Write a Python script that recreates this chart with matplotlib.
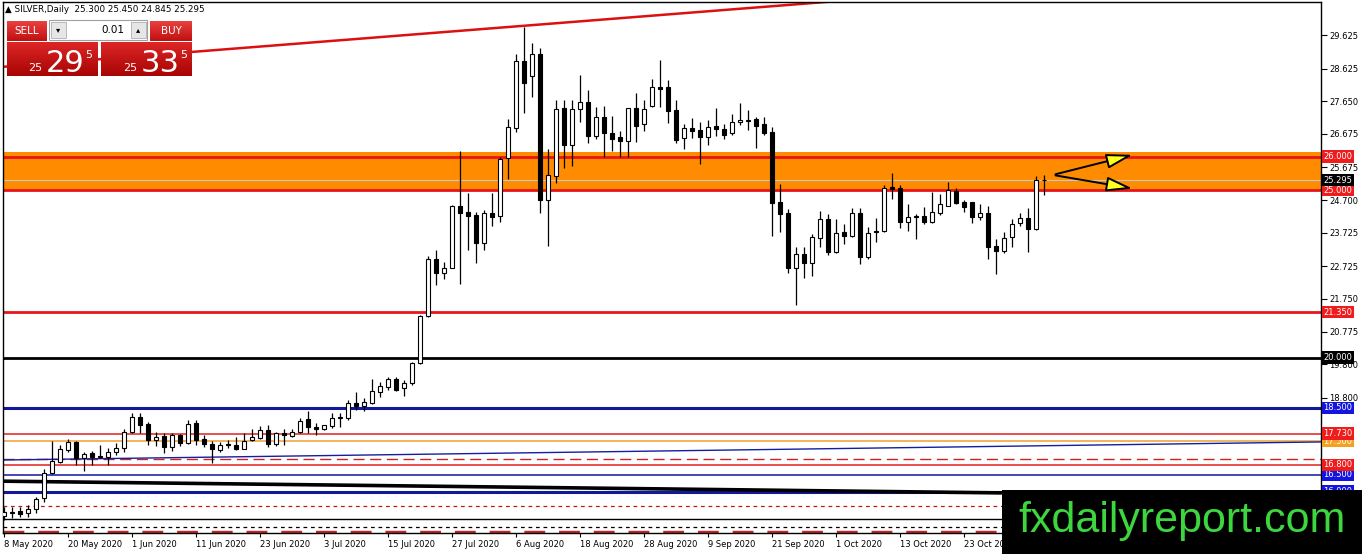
import numpy as np
import pandas as pd
import matplotlib
matplotlib.use('Agg')
import matplotlib.pyplot as plt
from matplotlib.patches import Rectangle
from matplotlib.colors import LinearSegmentedColormap

plt.rcParams['font.family'] = ['DejaVu Sans']

# daily OHLC
opens = [15.27, 15.37, 15.42, 15.35, 15.47, 15.80, 16.54, 16.87, 17.24, 17.47,
         17.01, 17.16, 17.05, 17.04, 17.17, 17.29, 17.79, 18.23, 18.02, 17.54,
         17.66, 17.32, 17.69, 17.46, 18.06, 17.56, 17.42, 17.24, 17.43, 17.40,
         17.28, 17.54, 17.60, 17.85, 17.42, 17.74, 17.67, 17.77, 18.15, 17.94,
         17.86, 17.97, 18.19, 18.18, 18.63, 18.56, 18.63, 18.98, 19.13, 19.36,
         19.08, 19.25, 19.83, 21.24, 22.93, 22.51, 22.68, 24.52, 24.35, 24.25,
         23.43, 24.32, 24.22, 25.95, 26.86, 28.85, 28.41, 29.06, 24.70, 25.43,
         27.44, 26.34, 27.41, 27.64, 26.61, 27.17, 26.71, 26.57, 26.47, 27.44,
         26.96, 27.51, 28.06, 28.06, 27.39, 26.54, 26.85, 26.79, 26.59, 26.91,
         26.81, 26.69, 27.04, 27.07, 27.11, 26.96, 26.72, 24.65, 24.30, 22.68,
         23.08, 22.83, 23.58, 24.12, 23.16, 23.74, 23.64, 24.30, 22.99, 23.78,
         23.78, 25.08, 25.05, 24.06, 24.22, 24.22, 24.06, 24.32, 24.53, 24.98,
         24.65, 24.63, 24.20, 24.30, 23.33, 23.19, 23.59, 24.03, 24.15, 23.83,
         25.300]
highs = [15.55, 15.55, 15.55, 15.60, 15.85, 16.66, 17.51, 17.39, 17.57, 17.51,
         17.19, 17.21, 17.39, 17.29, 17.44, 17.86, 18.35, 18.33, 18.08, 17.79,
         17.74, 17.76, 17.71, 18.13, 18.13, 17.68, 17.52, 17.49, 17.54, 17.64,
         17.74, 17.86, 17.97, 17.98, 17.77, 17.88, 17.88, 18.18, 18.40, 18.05,
         18.00, 18.33, 18.35, 18.73, 18.98, 18.78, 19.35, 19.28, 19.43, 19.41,
         19.33, 19.88, 21.27, 23.03, 23.21, 22.86, 24.55, 26.17, 24.90, 24.35,
         24.40, 24.90, 26.00, 27.11, 29.06, 29.86, 29.40, 29.23, 26.21, 27.69,
         27.69, 27.69, 28.43, 27.99, 27.47, 27.51, 27.21, 26.76, 27.44, 27.89,
         27.69, 28.30, 28.88, 28.28, 27.69, 26.97, 27.14, 27.04, 27.09, 27.44,
         26.97, 27.27, 27.61, 27.39, 27.17, 27.19, 26.89, 25.18, 24.42, 23.31,
         23.29, 23.69, 24.38, 24.27, 24.13, 24.00, 24.45, 24.45, 23.91, 24.15,
         25.15, 25.52, 25.15, 24.58, 24.28, 24.48, 24.95, 24.88, 25.25, 25.05,
         24.70, 24.65, 24.58, 24.52, 23.53, 23.76, 24.12, 24.32, 24.45, 25.42,
         25.450]
lows = [15.15, 15.20, 15.25, 15.23, 15.37, 15.70, 16.52, 16.86, 17.19, 16.79,
        16.62, 16.79, 16.99, 16.79, 17.09, 17.19, 17.74, 17.74, 17.39, 17.36,
        17.14, 17.21, 17.36, 17.42, 17.39, 17.32, 16.86, 17.18, 17.29, 17.24,
        17.26, 17.52, 17.57, 17.34, 17.36, 17.39, 17.62, 17.74, 17.76, 17.69,
        17.85, 17.89, 17.92, 18.13, 18.43, 18.41, 18.61, 18.81, 19.03, 19.01,
        18.85, 19.18, 19.80, 21.20, 22.16, 22.33, 22.66, 22.19, 23.21, 22.83,
        23.21, 23.94, 24.05, 25.32, 26.74, 27.31, 27.79, 24.32, 23.34, 25.22,
        25.65, 25.72, 27.04, 26.41, 26.52, 25.99, 26.17, 25.99, 25.99, 26.44,
        26.77, 27.47, 27.49, 27.01, 26.41, 26.21, 26.54, 25.78, 26.34, 26.61,
        26.51, 26.64, 26.94, 26.79, 26.24, 26.64, 23.63, 23.76, 22.53, 21.57,
        22.36, 22.43, 23.31, 23.06, 23.13, 23.39, 23.59, 22.79, 22.93, 23.46,
        23.76, 24.72, 23.88, 23.79, 23.53, 23.99, 24.02, 24.25, 24.52, 24.58,
        24.35, 24.03, 24.09, 22.93, 22.49, 23.11, 23.31, 23.93, 23.16, 23.81,
        24.845]
closes = [15.40, 15.38, 15.33, 15.47, 15.77, 16.54, 16.91, 17.26, 17.49, 16.99,
          17.11, 17.04, 17.04, 17.19, 17.31, 17.79, 18.21, 17.99, 17.54, 17.62,
          17.34, 17.69, 17.44, 18.02, 17.54, 17.42, 17.27, 17.38, 17.39, 17.28,
          17.52, 17.62, 17.85, 17.42, 17.74, 17.68, 17.77, 18.12, 17.92, 17.88,
          17.99, 18.20, 18.22, 18.63, 18.56, 18.66, 19.00, 19.15, 19.35, 19.03,
          19.23, 19.83, 21.24, 22.93, 22.51, 22.66, 24.52, 24.32, 24.22, 23.41,
          24.30, 24.20, 25.92, 26.89, 28.85, 28.20, 29.06, 24.70, 25.45, 27.41,
          26.34, 27.41, 27.64, 26.61, 27.17, 26.69, 26.52, 26.47, 27.44, 26.91,
          27.41, 28.06, 28.01, 27.37, 26.49, 26.84, 26.77, 26.59, 26.89, 26.81,
          26.64, 27.04, 27.09, 27.10, 26.91, 26.69, 24.62, 24.28, 22.68, 23.08,
          22.81, 23.59, 24.12, 23.16, 23.73, 23.63, 24.30, 22.99, 23.73, 23.74,
          25.07, 25.03, 24.06, 24.18, 24.19, 24.06, 24.33, 24.57, 25.00, 24.62,
          24.50, 24.20, 24.30, 23.31, 23.19, 23.56, 24.00, 24.15, 23.83, 25.30,
          25.295]
dates = pd.bdate_range('2020-05-08', periods=len(closes))

# horizontal levels with their right-axis label boxes
level_prices = [26.0, 25.0, 21.35, 20.0, 18.5, 16.0, 16.5, 17.5, 17.73, 16.8]
level_colors = ['#e8141a', '#e8141a', '#e8141a', 'black', '#10189c', '#10189c',
                '#10189c', '#f0a030', '#e02020', '#e02020']
level_widths = [2, 2, 2, 2, 2.2, 2.2, 1.1, 1.1, 1.1, 1.1]
label_bg = ['#ee1c1c', '#ee1c1c', '#ee1c1c', 'black', '#1414e0', '#1414e0',
            '#1414e0', '#f5a020', '#ee1c1c', '#ee1c1c']
zone_low, zone_high = 24.98, 26.13
bid = 25.295

y_ticks = [29.625, 28.625, 27.65, 26.675, 25.675, 24.7, 23.725, 22.725,
           21.75, 20.775, 19.8, 18.8, 17.825, 16.85, 15.875]
hidden_ticks = [17.825, 16.85, 15.875]   # covered by level boxes in the original

# trend lines (bar index, price)
red_trend = ([-0.5, 101.0], [28.67, 30.58])
black_trend = ([-0.5, 124.5], [16.31, 15.96])
blue_trend = ([-0.5, 164.6], [16.94, 17.48])

fig = plt.figure(figsize=(13.62, 5.54), dpi=100)
ax = fig.add_axes([3 / 1362, 21 / 554, 1318 / 1362, 531 / 554])
x = np.arange(len(closes))

ax.axhspan(zone_low, zone_high, color='#ff8c00', zorder=0.5, lw=0)
for p, c, w in zip(level_prices, level_colors, level_widths):
    ax.axhline(p, color=c, lw=w, zorder=1)
ax.axhline(bid, color='#c8c8c8', lw=0.8, zorder=1.1)
ax.axhline(16.97, color='#d02020', lw=1.0, dashes=(8, 4), zorder=1)
ax.axhline(15.57, color='#c01818', lw=0.9, dashes=(3, 3), zorder=1)
ax.axhline(15.18, color='black', lw=1.0, zorder=1)
ax.axhline(14.95, color='black', lw=0.9, dashes=(3, 3), zorder=1)
ax.axhline(14.80, color='#c02828', lw=2.5, dashes=(6, 4), zorder=1)

# red channel line runs off the top of the chart
slope = (red_trend[1][1] - red_trend[1][0]) / (red_trend[0][1] - red_trend[0][0])
rx = np.array([-0.5, 165.0])
ry = red_trend[1][0] + (rx - red_trend[0][0]) * slope
ax.plot(rx, ry, color='#dd1010', lw=1.8, zorder=1)
ax.plot(*black_trend, color='black', lw=2.6, zorder=1)
ax.plot(*blue_trend, color='#1020a0', lw=1.0, zorder=1)

# candles
ax.vlines(x, lows, highs, color='black', lw=0.9, zorder=2)
o = np.array(opens)
c = np.array(closes)
body_h = np.maximum(np.abs(c - o), 0.004)
body_b = np.minimum(o, c)
fills = ['white' if cc >= oo else 'black' for oo, cc in zip(o, c)]
ax.bar(x, body_h, bottom=body_b, width=0.45, color=fills, edgecolor='black',
       lw=0.8, zorder=3)

# arrows
for tip in [(141.4, 26.07), (141.4, 25.03)]:
    ax.annotate('', xy=tip, xytext=(131.1, 25.45),
                arrowprops=dict(arrowstyle='-|>,head_length=1.6,head_width=0.45',
                                fc='#ffff20', ec='black', lw=1.4), zorder=4)

ax.set_xlim(-0.125, 164.625)
ax.set_ylim(14.762, 30.612)

ax.yaxis.tick_right()
ax.set_yticks(y_ticks)
ax.set_yticklabels(['' if t in hidden_ticks else f'{t:.3f}' for t in y_ticks])
ax.tick_params(axis='y', labelsize=6, length=4, pad=2, width=0.8)
xt = list(range(0, len(closes), 8))
ax.set_xticks(xt)
ax.set_xticklabels([f'{dates[i].day} {dates[i]:%b %Y}' for i in xt], ha='left')
ax.tick_params(axis='x', labelsize=6, length=3, pad=2, width=0.8)
for s in ax.spines.values():
    s.set_linewidth(1)

ytr = ax.get_yaxis_transform()
for p, bg in zip(level_prices, label_bg):
    ax.text(1.0018, p, f'{p:.3f}', transform=ytr, fontsize=6, color='white',
            va='center', ha='left', zorder=6, clip_on=False,
            bbox=dict(boxstyle='square,pad=0.2', fc=bg, ec='none'))
ax.text(1.0018, bid, f'{bid:.3f}', transform=ytr, fontsize=6, color='white',
        va='center', ha='left', zorder=6, clip_on=False,
        bbox=dict(boxstyle='square,pad=0.2', fc='black', ec='none'))

# overlay in pixel coordinates for the trade panel and watermark
ov = fig.add_axes([0, 0, 1, 1], zorder=10)
ov.set_axis_off()
ov.patch.set_alpha(0)


def grad_box(x0, y0, x1, y1, top, bot):
    cm = LinearSegmentedColormap.from_list('g', [top, bot])
    ov.imshow(np.linspace(0, 1, 64).reshape(-1, 1), extent=(x0, x1, y1, y0),
              cmap=cm, aspect='auto', interpolation='bilinear')


ov.text(5, 9, '\u25b2 SILVER,Daily  25.300 25.450 24.845 25.295', fontsize=6.3,
        va='center', ha='left')
grad_box(7, 21, 47, 41, '#ea4040', '#c01010')
grad_box(150, 21, 192, 41, '#ea4040', '#c01010')
grad_box(7, 42, 98, 76, '#dc2626', '#a80404')
grad_box(101, 42, 192, 76, '#dc2626', '#a80404')
ov.add_patch(Rectangle((49, 20), 98, 20, fc='white', ec='#a0a0a0', lw=0.8))
ov.add_patch(Rectangle((51, 22), 15, 16, fc='#e6e6e6', ec='#b0b0b0', lw=0.6))
ov.add_patch(Rectangle((131, 22), 15, 16, fc='#e6e6e6', ec='#b0b0b0', lw=0.6))
ov.text(58.5, 30, '\u25be', fontsize=6, ha='center', va='center')
ov.text(138.5, 30, '\u25b4', fontsize=6, ha='center', va='center')
ov.text(124, 30, '0.01', fontsize=7.5, ha='right', va='center')
ov.text(27, 31, 'SELL', fontsize=7.5, color='white', ha='center', va='center')
ov.text(171, 31, 'BUY', fontsize=7.5, color='white', ha='center', va='center')
for x0, big in [(28, '29'), (123, '33')]:
    ov.text(x0, 71, '25', fontsize=8, color='white', ha='left', va='baseline')
    ov.text(x0 + 18, 72, big, fontsize=22, color='white', ha='left', va='baseline')
    ov.text(x0 + 57, 58, '5', fontsize=8, color='white', ha='left', va='baseline')

ov.add_patch(Rectangle((1002, 490), 360, 64, fc='black', ec='none'))
ov.text(1018, 532, 'fxdailyreport.com', fontsize=31, color='#3ed63e',
        family='Liberation Sans', ha='left', va='baseline')
ov.set_xlim(0, 1362)
ov.set_ylim(554, 0)

fig.savefig('out.png', dpi=100)
